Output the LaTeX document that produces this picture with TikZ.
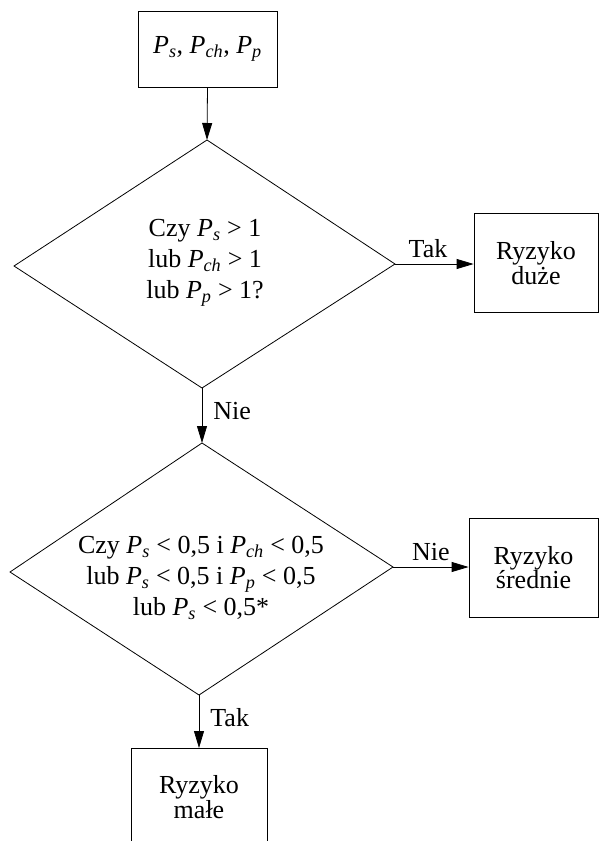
\documentclass[tikz,border=0pt]{standalone}
\usepackage{fontspec}
\setmainfont{Liberation Serif}
\usetikzlibrary{arrows.meta}
\newcommand\Pv[1]{\textit{P}\textsubscript{\textit{#1}}}
\begin{document}
\begin{tikzpicture}[x=1pt,y=-1pt,
  every node/.style={font=\fontsize{26}{31}\selectfont},
  procbox/.style={draw,rectangle,line width=0.8pt,inner sep=0pt,align=center,font=\fontsize{26}{23}\selectfont},
  decision/.style={line width=0.8pt},
  dtext/.style={align=center,inner sep=0pt},
  arr/.style={line width=0.8pt,-{Triangle[length=17pt,width=10pt]}},
  lbl/.style={inner sep=0pt}]
\fill[white] (0,0) rectangle (600,841);
\clip (0,0) rectangle (600,841);
% start box
\node[procbox,minimum width=139pt,minimum height=76pt] (start) at (207.5,49) {\Pv{s}, \Pv{ch}, \Pv{p}};
% decision 1
\coordinate (d1n) at (207,140);
\coordinate (d1e) at (395,264);
\coordinate (d1s) at (202,388);
\coordinate (d1w) at (14,266);
\draw[decision] (d1n) -- (d1e) -- (d1s) -- (d1w) -- cycle;
\node[dtext] (d1) at (205,263) {Czy \Pv{s} > 1\\lub \Pv{ch} > 1\\lub \Pv{p} > 1?};
\node[procbox,minimum width=124pt,minimum height=99pt] (big) at (536,263) {Ryzyko\\duże};
% decision 2
\coordinate (d2n) at (202,443);
\coordinate (d2e) at (393,567);
\coordinate (d2s) at (199,695);
\coordinate (d2w) at (10,572);
\draw[decision] (d2n) -- (d2e) -- (d2s) -- (d2w) -- cycle;
\node[dtext] (d2) at (201,578)
  {Czy \Pv{s} < 0,5 i \Pv{ch} < 0,5\\lub \Pv{s} < 0,5 i \Pv{p} < 0,5\\lub \Pv{s} < 0,5*};
\node[procbox,minimum width=129pt,minimum height=99pt] (mid) at (533.5,567.5) {Ryzyko\\średnie};
\node[procbox,minimum width=136pt,minimum height=104pt,anchor=north] (small) at (199,748) {};
\node[font=\fontsize{26}{23}\selectfont,align=center] (smalltxt) at (199,797) {Ryzyko\\małe};
% connectors
\draw[arr] (start.south) -- (d1n);
\draw[arr] (d1e) -- (d1e -| big.west) node[lbl,pos=0.42,above=6pt] {Tak};
\draw[arr] (d1s) -- (d2n) node[lbl,pos=0.42,right=11pt] {Nie};
\draw[arr] (d2e) -- (d2e -| mid.west) node[lbl,pos=0.5,above=6pt] {Nie};
\draw[arr] (d2s) -- (small.north) node[lbl,pos=0.42,right=11pt] {Tak};
\end{tikzpicture}
\end{document}
